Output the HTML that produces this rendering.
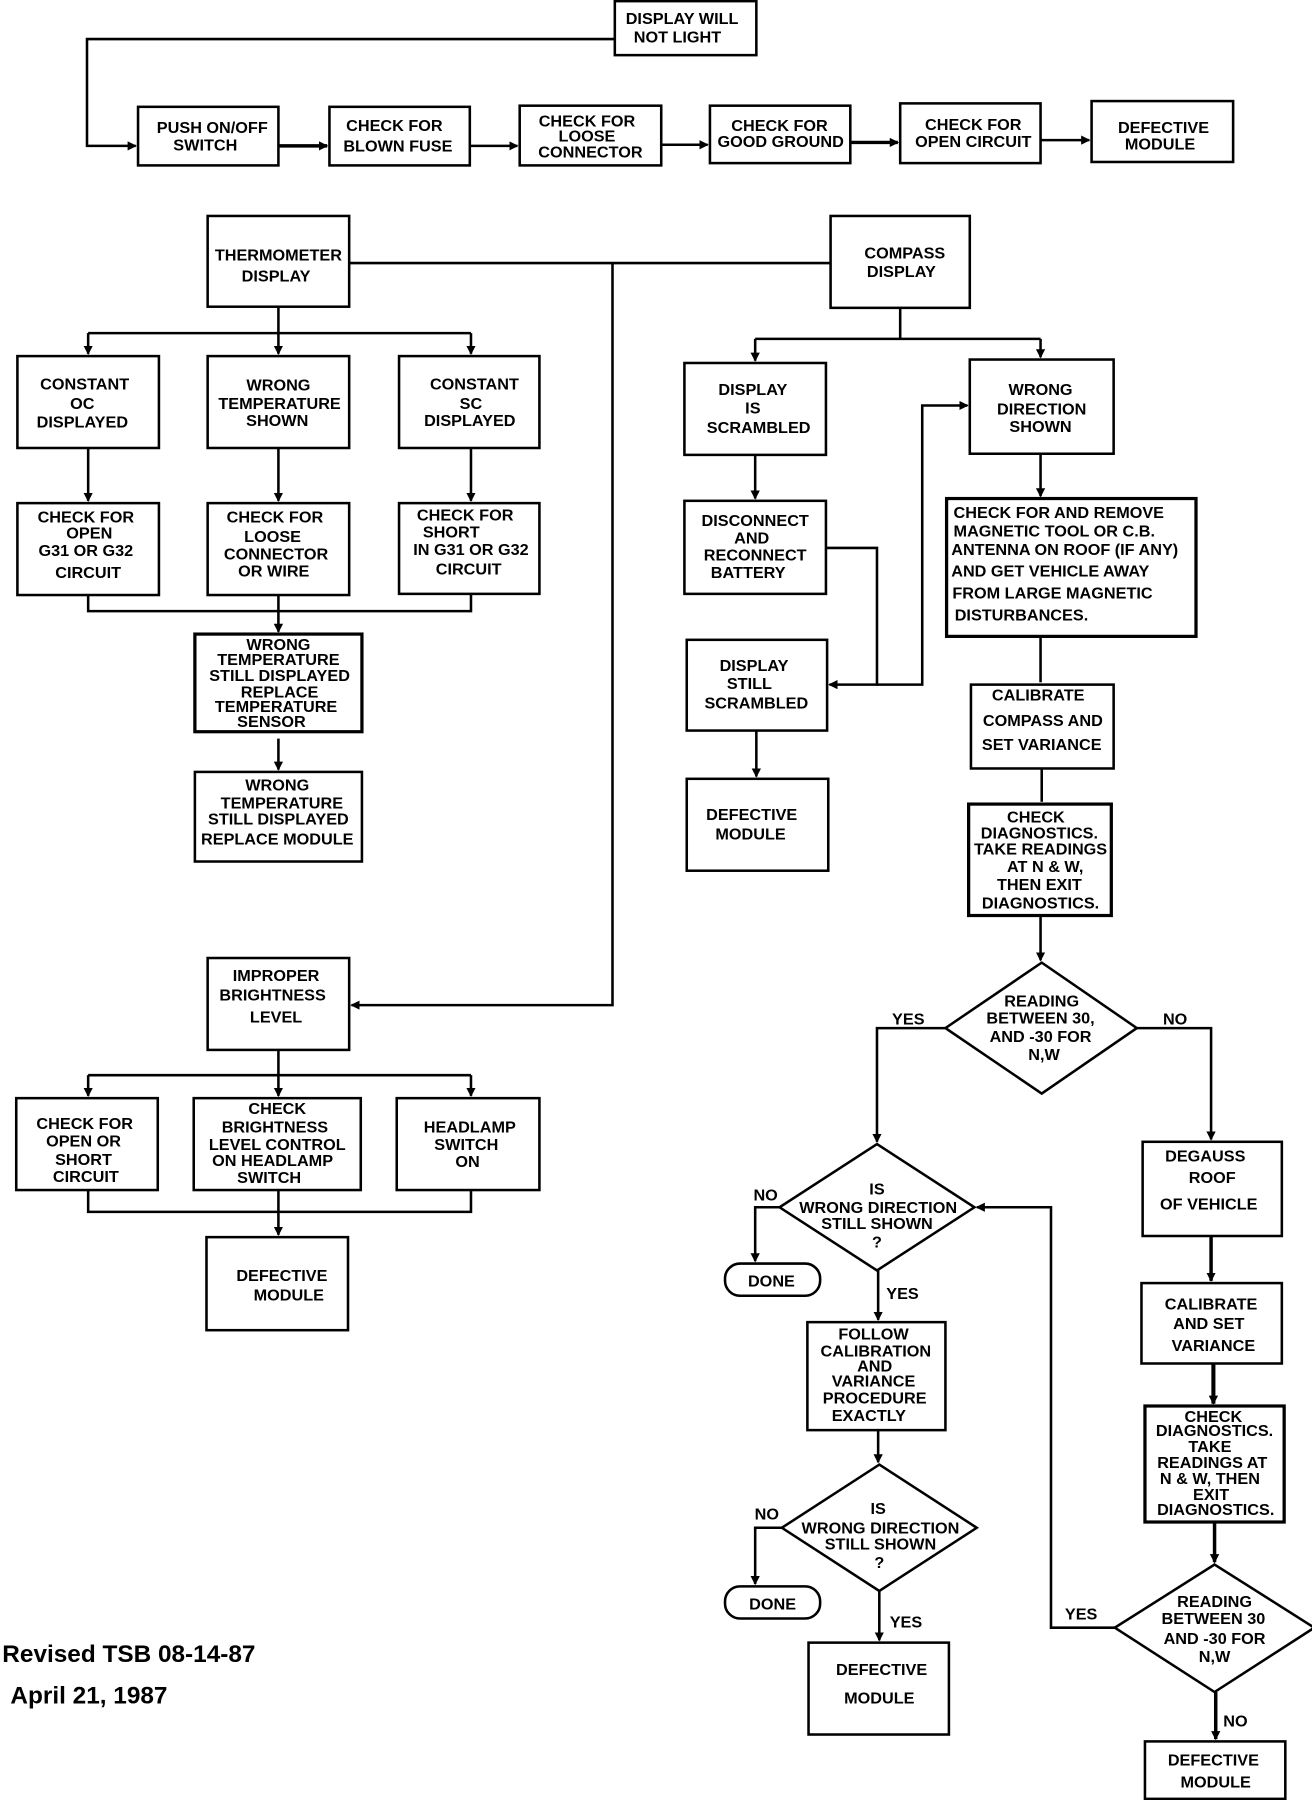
<!DOCTYPE html>
<html><head><meta charset="utf-8"><style>
html,body{margin:0;padding:0;background:#fff;}
svg{display:block;}
text{font-family:"Liberation Sans",Arial,sans-serif;font-weight:bold;font-size:14px;fill:#000;text-anchor:middle;}
.l{text-anchor:start;}
</style></head><body>
<svg width="1312" height="1800" viewBox="0 0 1131 1567" preserveAspectRatio="none" xmlns="http://www.w3.org/2000/svg">
<defs><marker id="a" markerWidth="8" markerHeight="8" refX="7" refY="4" orient="auto" markerUnits="userSpaceOnUse"><path d="M0,0 L8,4 L0,8 z" fill="#000"/></marker></defs>
<g fill="none" stroke="#000" stroke-width="2.2">
<rect x="530" y="1" width="122" height="47"/>
<polyline points="530,34 75,34 75,127 117,127" marker-end="url(#a)"/>
<rect x="119" y="93" width="121" height="51"/>
<rect x="284" y="93" width="121" height="51"/>
<rect x="448" y="92" width="122" height="52"/>
<rect x="612" y="92" width="121" height="50"/>
<rect x="776" y="90" width="121" height="52"/>
<rect x="941" y="88" width="122" height="53"/>
<line x1="240" y1="127" x2="282" y2="127" marker-end="url(#a)" stroke-width="3"/>
<line x1="405" y1="127" x2="446" y2="127" marker-end="url(#a)"/>
<line x1="570" y1="126" x2="610" y2="126" marker-end="url(#a)"/>
<line x1="733" y1="124" x2="774" y2="124" marker-end="url(#a)" stroke-width="3"/>
<line x1="897" y1="122" x2="939" y2="122" marker-end="url(#a)"/>
<rect x="179" y="188" width="122" height="79"/>
<rect x="716" y="188" width="120" height="80"/>
<line x1="301" y1="229" x2="716" y2="229"/>
<polyline points="528,229 528,875 303,875" marker-end="url(#a)"/>
<polyline points="240,267 240,290"/>
<line x1="76" y1="290" x2="406" y2="290"/>
<line x1="76" y1="290" x2="76" y2="308" marker-end="url(#a)"/>
<line x1="240" y1="290" x2="240" y2="308" marker-end="url(#a)"/>
<line x1="406" y1="290" x2="406" y2="308" marker-end="url(#a)"/>
<rect x="15" y="310" width="122" height="80"/>
<rect x="179" y="310" width="122" height="80"/>
<rect x="344" y="310" width="121" height="80"/>
<line x1="76" y1="390" x2="76" y2="436" marker-end="url(#a)"/>
<line x1="240" y1="390" x2="240" y2="436" marker-end="url(#a)"/>
<line x1="406" y1="390" x2="406" y2="436" marker-end="url(#a)"/>
<rect x="15" y="438" width="122" height="80"/>
<rect x="179" y="438" width="122" height="80"/>
<rect x="344" y="438" width="121" height="79"/>
<polyline points="76,518 76,532 406,532 406,517"/>
<line x1="240" y1="518" x2="240" y2="550" marker-end="url(#a)"/>
<rect x="168" y="552" width="144" height="85" stroke-width="2.8"/>
<line x1="240" y1="643" x2="240" y2="670" marker-end="url(#a)"/>
<rect x="168" y="672" width="144" height="78"/>
<rect x="179" y="834" width="122" height="80"/>
<line x1="240" y1="914" x2="240" y2="936"/>
<line x1="76" y1="936" x2="406" y2="936"/>
<line x1="76" y1="936" x2="76" y2="954" marker-end="url(#a)"/>
<line x1="240" y1="936" x2="240" y2="954" marker-end="url(#a)"/>
<line x1="406" y1="936" x2="406" y2="954" marker-end="url(#a)"/>
<rect x="14" y="956" width="122" height="80"/>
<rect x="167" y="956" width="144" height="80"/>
<rect x="342" y="956" width="123" height="80"/>
<polyline points="76,1036 76,1055 406,1055 406,1036"/>
<line x1="240" y1="1036" x2="240" y2="1075" marker-end="url(#a)"/>
<rect x="178" y="1077" width="122" height="81"/>
<line x1="776" y1="268" x2="776" y2="295"/>
<line x1="651" y1="295" x2="897" y2="295"/>
<line x1="651" y1="295" x2="651" y2="314" marker-end="url(#a)"/>
<line x1="897" y1="295" x2="897" y2="311" marker-end="url(#a)"/>
<rect x="590" y="316" width="122" height="80"/>
<rect x="836" y="313" width="124" height="82"/>
<line x1="651" y1="396" x2="651" y2="434" marker-end="url(#a)"/>
<rect x="590" y="436" width="122" height="81"/>
<polyline points="712,477 756,477 756,596 715,596" marker-end="url(#a)"/>
<polyline points="756,596 795,596 795,353 834,353" marker-end="url(#a)"/>
<rect x="592" y="557" width="121" height="79"/>
<line x1="652" y1="636" x2="652" y2="676" marker-end="url(#a)"/>
<rect x="592" y="678" width="122" height="80"/>
<line x1="897" y1="395" x2="897" y2="432" marker-end="url(#a)"/>
<rect x="816" y="434" width="215" height="120" stroke-width="2.8"/>
<line x1="897" y1="554" x2="897" y2="594"/>
<rect x="837" y="596" width="123" height="73"/>
<line x1="898" y1="669" x2="898" y2="698"/>
<rect x="835" y="700" width="123" height="97" stroke-width="2.8"/>
<line x1="897" y1="797" x2="897" y2="836" marker-end="url(#a)"/>
<polygon points="898,838 980,895 898,952 815,895"/>
<polyline points="815,895 756,895 756,994" marker-end="url(#a)"/>
<polyline points="980,895 1044,895 1044,992" marker-end="url(#a)"/>
<polygon points="756,996 840,1051 756,1106 672,1051"/>
<polyline points="672,1051 651,1051 651,1098" marker-end="url(#a)"/>
<rect x="625" y="1100" width="82" height="28" rx="13"/>
<line x1="757" y1="1106" x2="757" y2="1149" marker-end="url(#a)"/>
<rect x="696" y="1151" width="119" height="94"/>
<line x1="757" y1="1245" x2="757" y2="1273" marker-end="url(#a)"/>
<polygon points="758,1275 842,1330 758,1385 674,1330"/>
<polyline points="674,1330 651,1330 651,1379" marker-end="url(#a)"/>
<rect x="625" y="1381" width="82" height="28" rx="13"/>
<line x1="758" y1="1385" x2="758" y2="1428" marker-end="url(#a)"/>
<rect x="697" y="1430" width="121" height="80"/>
<rect x="985" y="994" width="120" height="82"/>
<line x1="1044" y1="1076" x2="1044" y2="1115" marker-end="url(#a)" stroke-width="3"/>
<rect x="984" y="1117" width="121" height="70"/>
<line x1="1046" y1="1187" x2="1046" y2="1222" marker-end="url(#a)" stroke-width="3.5"/>
<rect x="987" y="1224" width="120" height="101" stroke-width="2.8"/>
<line x1="1047" y1="1325" x2="1047" y2="1360" marker-end="url(#a)" stroke-width="3"/>
<polygon points="1047,1362 1133,1417 1047,1473 961,1417"/>
<polyline points="961,1417 906,1417 906,1051 842,1051" marker-end="url(#a)"/>
<line x1="1048" y1="1473" x2="1048" y2="1514" marker-end="url(#a)" stroke-width="3"/>
<rect x="987" y="1516" width="121" height="50"/>
</g>
<text x="588" y="21">DISPLAY WILL</text><text x="584" y="37">NOT LIGHT</text>
<text x="183" y="116">PUSH ON/OFF</text><text x="177" y="131">SWITCH</text>
<text x="340" y="114">CHECK FOR</text><text x="343" y="132">BLOWN FUSE</text>
<text x="506" y="110">CHECK FOR</text><text x="506" y="123">LOOSE</text><text x="509" y="137">CONNECTOR</text>
<text x="672" y="114">CHECK FOR</text><text x="673" y="128">GOOD GROUND</text>
<text x="839" y="113">CHECK FOR</text><text x="839" y="128">OPEN CIRCUIT</text>
<text x="1003" y="116">DEFECTIVE</text><text x="1000" y="130">MODULE</text>
<text x="240" y="227">THERMOMETER</text><text x="238" y="245">DISPLAY</text>
<text x="780" y="225">COMPASS</text><text x="777" y="241">DISPLAY</text>
<text x="73" y="339">CONSTANT</text><text x="71" y="356">OC</text><text x="71" y="372">DISPLAYED</text>
<text x="240" y="340">WRONG</text><text x="241" y="356">TEMPERATURE</text><text x="239" y="371">SHOWN</text>
<text x="409" y="339">CONSTANT</text><text x="406" y="356">SC</text><text x="405" y="371">DISPLAYED</text>
<text x="74" y="455">CHECK FOR</text><text x="77" y="469">OPEN</text><text x="74" y="484">G31 OR G32</text><text x="76" y="503">CIRCUIT</text>
<text x="237" y="455">CHECK FOR</text><text x="235" y="472">LOOSE</text><text x="238" y="487">CONNECTOR</text><text x="236" y="502">OR WIRE</text>
<text x="401" y="453">CHECK FOR</text><text x="389" y="468">SHORT</text><text x="406" y="483">IN G31 OR G32</text><text x="404" y="500">CIRCUIT</text>
<text x="240" y="566">WRONG</text><text x="240" y="579">TEMPERATURE</text><text x="241" y="593">STILL DISPLAYED</text><text x="241" y="607">REPLACE</text><text x="238" y="620">TEMPERATURE</text><text x="234" y="633">SENSOR</text>
<text x="239" y="688">WRONG</text><text x="243" y="704">TEMPERATURE</text><text x="240" y="718">STILL DISPLAYED</text><text x="239" y="735">REPLACE MODULE</text>
<text x="238" y="854">IMPROPER</text><text x="235" y="871">BRIGHTNESS</text><text x="238" y="890">LEVEL</text>
<text x="73" y="983">CHECK FOR</text><text x="72" y="998">OPEN  OR</text><text x="72" y="1014">SHORT</text><text x="74" y="1029">CIRCUIT</text>
<text x="239" y="970">CHECK</text><text x="237" y="986">BRIGHTNESS</text><text x="239" y="1001">LEVEL CONTROL</text><text x="235" y="1015">ON HEADLAMP</text><text x="232" y="1030">SWITCH</text>
<text x="405" y="986">HEADLAMP</text><text x="402" y="1001">SWITCH</text><text x="403" y="1016">ON</text>
<text x="243" y="1115">DEFECTIVE</text><text x="249" y="1132">MODULE</text>
<text x="649" y="344">DISPLAY</text><text x="649" y="360">IS</text><text x="654" y="377">SCRAMBLED</text>
<text x="897" y="344">WRONG</text><text x="898" y="361">DIRECTION</text><text x="897" y="376">SHOWN</text>
<text x="651" y="458">DISCONNECT</text><text x="648" y="473">AND</text><text x="651" y="488">RECONNECT</text><text x="645" y="503">BATTERY</text>
<text x="650" y="584">DISPLAY</text><text x="646" y="600">STILL</text><text x="652" y="617">SCRAMBLED</text>
<text x="648" y="714">DEFECTIVE</text><text x="647" y="731">MODULE</text>
<text class="l" x="822" y="451">CHECK FOR AND REMOVE</text><text class="l" x="822" y="467">MAGNETIC  TOOL OR C.B.</text><text class="l" x="820" y="483">ANTENNA ON ROOF (IF ANY)</text><text class="l" x="820" y="502">AND GET  VEHICLE AWAY</text><text class="l" x="821" y="521">FROM LARGE MAGNETIC</text><text class="l" x="823" y="540">DISTURBANCES.</text>
<text x="895" y="610">CALIBRATE</text><text x="899" y="632">COMPASS AND</text><text x="898" y="653">SET VARIANCE</text>
<text x="893" y="716">CHECK</text><text x="896" y="730">DIAGNOSTICS.</text><text x="897" y="744">TAKE READINGS</text><text x="901" y="759">AT    N &amp; W,</text><text x="896" y="775">THEN EXIT</text><text x="897" y="791">DIAGNOSTICS.</text>
<text x="898" y="876">READING</text><text x="897" y="891">BETWEEN 30,</text><text x="897" y="907">AND -30 FOR</text><text x="900" y="923">N,W</text>
<text x="783" y="892">YES</text><text x="1013" y="892">NO</text>
<text x="756" y="1040">IS</text><text x="757" y="1056">WRONG DIRECTION</text><text x="756" y="1070">STILL SHOWN</text><text x="756" y="1086">?</text>
<text x="660" y="1045">NO</text><text x="778" y="1131">YES</text>
<text x="665" y="1120">DONE</text>
<text x="753" y="1166">FOLLOW</text><text x="755" y="1181">CALIBRATION</text><text x="754" y="1194">AND</text><text x="753" y="1207">VARIANCE</text><text x="754" y="1222">PROCEDURE</text><text x="749" y="1237">EXACTLY</text>
<text x="757" y="1318">IS</text><text x="759" y="1335">WRONG DIRECTION</text><text x="759" y="1349">STILL SHOWN</text><text x="758" y="1365">?</text>
<text x="661" y="1323">NO</text><text x="781" y="1417">YES</text>
<text x="666" y="1401">DONE</text>
<text x="760" y="1458">DEFECTIVE</text><text x="758" y="1483">MODULE</text>
<text x="1039" y="1011">DEGAUSS</text><text x="1045" y="1030">ROOF</text><text x="1042" y="1053">OF VEHICLE</text>
<text x="1044" y="1140">CALIBRATE</text><text x="1042" y="1157">AND SET</text><text x="1046" y="1176">VARIANCE</text>
<text x="1046" y="1238">CHECK</text><text x="1047" y="1250">DIAGNOSTICS.</text><text x="1043" y="1264">TAKE</text><text x="1045" y="1278">READINGS  AT</text><text x="1043" y="1292">N &amp; W,   THEN</text><text x="1044" y="1306">EXIT</text><text x="1048" y="1319">DIAGNOSTICS.</text>
<text x="1047" y="1399">READING</text><text x="1046" y="1414">BETWEEN 30</text><text x="1047" y="1431">AND -30 FOR</text><text x="1047" y="1447">N,W</text>
<text x="932" y="1410">YES</text><text x="1065" y="1503">NO</text>
<text x="1046" y="1537">DEFECTIVE</text><text x="1048" y="1556">MODULE</text>
<text class="l" x="2" y="1447" style="font-size:21px">Revised TSB 08-14-87</text>
<text class="l" x="9" y="1483" style="font-size:21px">April 21, 1987</text>
</svg>
</body></html>
